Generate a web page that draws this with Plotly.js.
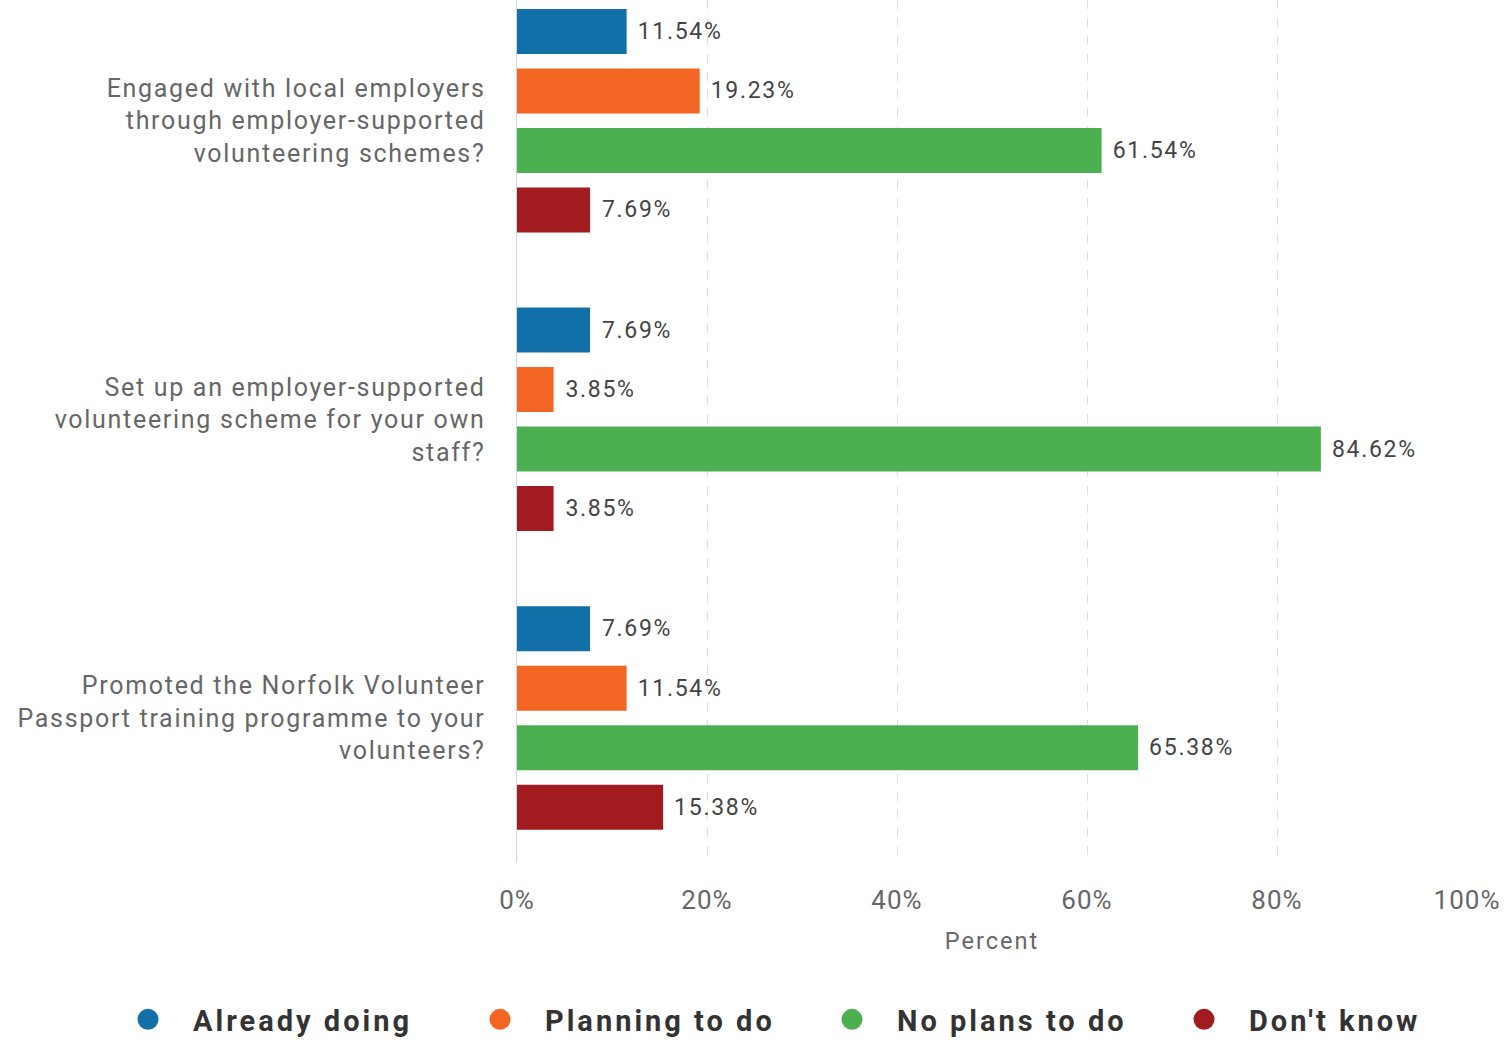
<!DOCTYPE html>
<html>
<head>
<meta charset="utf-8">
<script src="https://cdn.plot.ly/plotly-3.0.1.min.js"></script>
<style>
html,body{margin:0;padding:0;background:#fff;}
#chart{width:1511px;height:1045px;}
#chart g.ytick text{letter-spacing:1.7px;}
#chart g.xtick text{letter-spacing:1px;}
#chart text.bartext{letter-spacing:1.7px;}
#chart text.xtitle{letter-spacing:2px;}
#chart text.legendtext{letter-spacing:3px;}
</style>
</head>
<body>
<div id="chart"></div>
<script>
var categories = [
  "Engaged with local employers<br>through employer-supported<br>volunteering schemes?",
  "Set up an employer-supported<br>volunteering scheme for your own<br>staff?",
  "Promoted the Norfolk Volunteer<br>Passport training programme to your<br>volunteers?"
];
var seriesNames = ["Already doing", "Planning to do", "No plans to do", "Don't know"];
var alreadyDoing = [11.54, 7.69, 7.69];
var planningToDo = [19.23, 3.85, 11.54];
var noPlansToDo = [61.54, 84.62, 65.38];
var dontKnow = [7.69, 3.85, 15.38];
var xTickVals = [0, 20, 40, 60, 80, 100];
var xTickText = ["0%", "20%", "40%", "60%", "80%", "100%"];

var seriesValues = [alreadyDoing, planningToDo, noPlansToDo, dontKnow];
var colors = ["#136fa8", "#f26522", "#4caf50", "#a21b1f"];

var traces = [];
seriesValues.forEach(function (vals, i) {
  traces.push({
    type: "bar",
    orientation: "h",
    name: seriesNames[i],
    x: vals,
    y: categories,
    marker: {color: colors[i]},
    text: vals.map(function (v) { return "\u00a0\u00a0" + v.toFixed(2) + "%"; }),
    textposition: "outside",
    textfont: {family: "Roboto, sans-serif", size: 23, color: "#444"},
    cliponaxis: false,
    showlegend: false,
    hoverinfo: "x+name"
  });
});
seriesNames.forEach(function (n, i) {
  traces.push({
    type: "scatter",
    mode: "markers",
    name: n,
    x: [null],
    y: [null],
    marker: {color: colors[i], size: 16, symbol: "circle", line: {color: colors[i], width: 5}},
    showlegend: true
  });
});

var layout = {
  width: 1511,
  height: 1045,
  margin: {l: 517, r: 44, t: 0, b: 183},
  paper_bgcolor: "#fff",
  plot_bgcolor: "#fff",
  barmode: "group",
  bargap: 0.203,
  bargroupgap: 0.244,
  font: {family: "Roboto, sans-serif", color: "#666"},
  xaxis: {
    range: [0, 100],
    tickvals: xTickVals,
    ticktext: xTickText,
    showgrid: true,
    gridcolor: "#dddddd",
    griddash: "dash",
    gridwidth: 1,
    zeroline: false,
    showline: false,
    ticks: "outside",
    ticklen: 15,
    tickcolor: "rgba(0,0,0,0)",
    tickfont: {size: 26, color: "#666"},
    title: {text: "Percent", font: {size: 23.5, color: "#666"}, standoff: 18}
  },
  yaxis: {
    type: "category",
    range: [2.482, -0.404],
    showline: true,
    linecolor: "#ccd6eb",
    linewidth: 1.5,
    showgrid: false,
    zeroline: false,
    ticks: "outside",
    ticklen: 25,
    tickcolor: "rgba(0,0,0,0)",
    tickfont: {size: 25, color: "#666"}
  },
  legend: {
    orientation: "h",
    xref: "paper",
    yref: "paper",
    x: -0.4074,
    xanchor: "left",
    y: -0.1833,
    yanchor: "middle",
    itemwidth: 80,
    entrywidth: 257,
    font: {family: "Roboto, sans-serif", size: 29, color: "#333", weight: "bold"}
  },
  showlegend: true
};

Plotly.newPlot("chart", traces, layout, {displayModeBar: false, staticPlot: true});
</script>
</body>
</html>
